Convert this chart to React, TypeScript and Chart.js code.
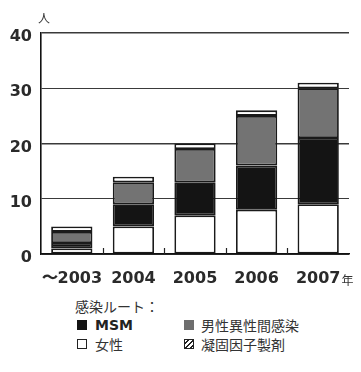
import React, { useEffect, useRef } from "react";
import { Chart, registerables } from "chart.js";

Chart.register(...registerables);

// Infection routes by year (people)
const years = ["〜2003", "2004", "2005", "2006", "2007"];
const female = [1, 5, 7, 8, 9];
const msm = [1, 4, 6, 8, 12];
const heterosexualMale = [2, 4, 6, 9, 9];
const clottingFactor = [1, 1, 1, 1, 1];
const yTicks = [0, 10, 20, 30, 40];

const W = 361;
const CANVAS_H = 295;

const NUM_FONT = "'DejaVu Sans', sans-serif";
const JP_FONT = "'Noto Sans CJK JP', sans-serif";

// Small marks on the x axis between neighbouring categories, plus unit labels.
const decorations = {
  id: "decorations",
  afterDraw(chart: Chart) {
    const { ctx, chartArea, scales } = chart;
    const x = scales.x;
    ctx.save();
    ctx.strokeStyle = "#222";
    ctx.lineWidth = 1.2;
    for (let i = 0; i < years.length - 1; i++) {
      const mid = (x.getPixelForValue(i) + x.getPixelForValue(i + 1)) / 2;
      ctx.beginPath();
      ctx.moveTo(Math.round(mid) + 0.5, chartArea.bottom);
      ctx.lineTo(Math.round(mid) + 0.5, chartArea.bottom - 6);
      ctx.stroke();
    }
    // unit of the value axis
    ctx.fillStyle = "#333";
    ctx.font = `12px ${JP_FONT}`;
    ctx.textAlign = "center";
    ctx.textBaseline = "middle";
    ctx.fillText("人", chartArea.left + 3, chartArea.top - 15);
    // unit of the year axis after the last label
    ctx.font = `bold 16px ${NUM_FONT}`;
    const lastX = x.getPixelForValue(years.length - 1);
    const half = ctx.measureText(years[years.length - 1]).width / 2;
    ctx.font = `12px ${JP_FONT}`;
    ctx.textAlign = "left";
    ctx.fillText("年", lastX + half + 1, chartArea.bottom + 26);
    ctx.restore();
  },
};

function Swatch({ kind }: { kind: "black" | "gray" | "white" | "hatch" }) {
  const base: React.CSSProperties = {
    display: "inline-block",
    width: 10,
    height: 10,
    boxSizing: "border-box",
    verticalAlign: "middle",
  };
  if (kind === "black") return <span style={{ ...base, background: "#141414" }} />;
  if (kind === "gray") return <span style={{ ...base, background: "#6e6e6e" }} />;
  if (kind === "white")
    return <span style={{ ...base, background: "#fff", border: "1.5px solid #222" }} />;
  return (
    <span
      style={{
        ...base,
        border: "1.5px solid #222",
        background:
          "repeating-linear-gradient(135deg, #fff 0 2px, #222 2px 3.5px)",
      }}
    />
  );
}

export default function App() {
  const canvasRef = useRef<HTMLCanvasElement | null>(null);

  useEffect(() => {
    const canvas = canvasRef.current;
    if (!canvas) return;
    const border = "#1a1a1a";
    const common = {
      borderColor: border,
      borderWidth: 1.8,
      borderSkipped: false as const,
      barPercentage: 0.67,
      categoryPercentage: 1,
    };
    const chart = new Chart(canvas, {
      type: "bar",
      data: {
        labels: years,
        datasets: [
          { label: "女性", data: female, backgroundColor: "#ffffff", ...common },
          { label: "MSM", data: msm, backgroundColor: "#141414", ...common },
          { label: "男性異性間感染", data: heterosexualMale, backgroundColor: "#737373", ...common },
          { label: "凝固因子製剤", data: clottingFactor, backgroundColor: "#ffffff", ...common },
        ],
      },
      options: {
        responsive: false,
        animation: false,
        layout: { padding: { top: 33, right: 12, left: 0, bottom: 0 } },
        plugins: {
          legend: { display: false },
          tooltip: { enabled: false },
        },
        scales: {
          x: {
            stacked: true,
            grid: { display: false, drawTicks: false },
            border: { display: true, color: "#111", width: 1.6 },
            ticks: {
              color: "#2a2a2a",
              font: { family: NUM_FONT, size: 16, weight: "bold" },
              padding: 15,
              maxRotation: 0,
              autoSkip: false,
            },
            afterFit: (s: any) => {
              s.height = CANVAS_H - 254;
            },
          },
          y: {
            stacked: true,
            min: 0,
            max: 40,
            afterBuildTicks: (s: any) => {
              s.ticks = yTicks.map((v) => ({ value: v }));
            },
            grid: {
              color: "#3a3a3a",
              lineWidth: (c: any) => (c.tick && (c.tick.value === 20 || c.tick.value === 40) ? 1.6 : 1),
              drawTicks: false,
            },
            border: { display: true, color: "#111", width: 1.6 },
            ticks: {
              color: "#2a2a2a",
              font: { family: NUM_FONT, size: 16, weight: "bold" },
              padding: 9,
              labelOffset: 4,
            },
            afterFit: (s: any) => {
              s.width = 41;
            },
          },
        },
      },
      plugins: [decorations],
    });
    return () => chart.destroy();
  }, []);

  const row: React.CSSProperties = {
    position: "absolute",
    left: 77,
    height: 20,
    display: "flex",
    alignItems: "center",
    fontSize: 14,
    color: "#333",
    fontFamily: JP_FONT,
    whiteSpace: "nowrap",
  };
  const col2 = 184;
  const text2 = 201;

  return (
    <div
      style={{
        position: "absolute",
        left: 0,
        top: 0,
        width: W,
        height: 372,
        background: "#fff",
        overflow: "hidden",
      }}
    >
      <canvas ref={canvasRef} width={W} height={CANVAS_H} style={{ display: "block" }} />
      <div style={{ ...row, left: 75, top: 296 }}>感染ルート：</div>
      <div style={{ ...row, top: 315, width: 270 }}>
        <Swatch kind="black" />
        <span style={{ position: "absolute", left: 18, fontFamily: NUM_FONT, fontWeight: "bold", fontSize: 14, color: "#222" }}>MSM</span>
        <span style={{ position: "absolute", left: col2 - 77, display: "flex" }}>
          <Swatch kind="gray" />
        </span>
        <span style={{ position: "absolute", left: text2 - 77 }}>男性異性間感染</span>
      </div>
      <div style={{ ...row, top: 334, width: 270 }}>
        <Swatch kind="white" />
        <span style={{ position: "absolute", left: 18 }}>女性</span>
        <span style={{ position: "absolute", left: col2 - 77, display: "flex" }}>
          <Swatch kind="hatch" />
        </span>
        <span style={{ position: "absolute", left: text2 - 77 }}>凝固因子製剤</span>
      </div>
    </div>
  );
}
